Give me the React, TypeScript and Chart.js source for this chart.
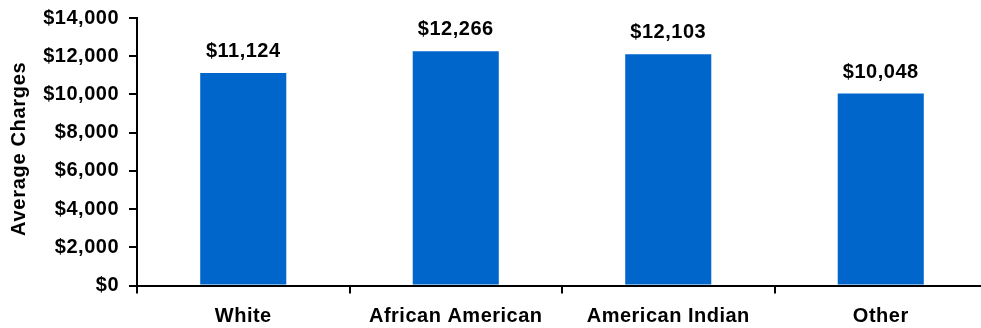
import React, { useEffect, useRef } from "react";
import { Chart, registerables } from "chart.js";

Chart.register(...registerables);

const categories = ["White", "African American", "American Indian", "Other"];
const averageCharges = [11124, 12266, 12103, 10048];
const yTickValues = [0, 2000, 4000, 6000, 8000, 10000, 12000, 14000];
const yAxisTitle = "Average Charges";

const FONT = "'Liberation Sans', Arial, sans-serif";
const fmt = (v: number) => "$" + v.toLocaleString("en-US");

const textSpacing = {
  id: "textSpacing",
  beforeDraw(chart: any) {
    (chart.ctx as any).letterSpacing = "0.5px";
  },
};

const valueLabels = {
  id: "valueLabels",
  afterDatasetsDraw(chart: any) {
    const ctx = chart.ctx;
    const meta = chart.getDatasetMeta(0);
    ctx.save();
    ctx.font = `bold 20px ${FONT}`;
    ctx.fillStyle = "#000";
    ctx.textAlign = "center";
    ctx.textBaseline = "alphabetic";
    meta.data.forEach((bar: any, i: number) => {
      ctx.fillText(fmt(averageCharges[i]), bar.x, bar.y - 16);
    });
    ctx.restore();
  },
};

const axisTitle = {
  id: "axisTitle",
  afterDraw(chart: any) {
    const ctx = chart.ctx;
    const area = chart.chartArea;
    ctx.save();
    ctx.font = `bold 20px ${FONT}`;
    (ctx as any).letterSpacing = "0.7px";
    ctx.fillStyle = "#000";
    ctx.textAlign = "center";
    ctx.textBaseline = "middle";
    ctx.translate(19, (area.top + area.bottom) / 2 - 3);
    ctx.rotate(-Math.PI / 2);
    ctx.fillText(yAxisTitle, 0, 0);
    ctx.restore();
  },
};

export default function App() {
  const ref = useRef<HTMLCanvasElement>(null);
  useEffect(() => {
    document.body.style.margin = "0";
    document.body.style.overflow = "hidden";
    const chart = new Chart(ref.current!, {
      type: "bar",
      data: {
        labels: categories,
        datasets: [
          {
            data: averageCharges,
            backgroundColor: "#0066CC",
            borderWidth: 0,
            categoryPercentage: 1,
            barPercentage: 0.405,
          },
        ],
      },
      options: {
        animation: false,
        responsive: false,
        layout: { padding: { top: 18, left: 0, right: 0, bottom: 0 } },
        plugins: { legend: { display: false }, tooltip: { enabled: false } },
        scales: {
          x: {
            afterFit: (s: any) => {
              s.height = 42.5;
              s.paddingLeft = 0;
              s.paddingRight = 0;
            },
            grid: {
              offset: true,
              drawOnChartArea: false,
              drawTicks: true,
              tickLength: 8,
              color: "#000",
              lineWidth: 2,
            },
            border: { color: "#000", width: 2 },
            ticks: {
              color: "#000",
              font: { family: FONT, size: 20, weight: "bold" },
              padding: 11,
              maxRotation: 0,
            },
          },
          y: {
            min: 0,
            max: 14000,
            afterFit: (s: any) => {
              s.width = 137;
              s.paddingTop = 0;
              s.paddingBottom = 0;
            },
            afterBuildTicks: (axis: any) => {
              axis.ticks = yTickValues.map((v) => ({ value: v }));
            },
            grid: {
              drawOnChartArea: false,
              drawTicks: true,
              tickLength: 8,
              color: "#000",
              lineWidth: 2,
            },
            border: { color: "#000", width: 2 },
            ticks: {
              color: "#000",
              font: { family: FONT, size: 20, weight: "bold" },
              padding: 10,
              callback: (v: any) => fmt(Number(v)),
            },
          },
        },
      },
      plugins: [textSpacing, valueLabels, axisTitle],
    });
    return () => chart.destroy();
  }, []);
  return (
    <div style={{ width: 981, height: 328, overflow: "hidden" }}>
      <canvas ref={ref} width={987} height={328} style={{ display: "block" }} />
    </div>
  );
}
